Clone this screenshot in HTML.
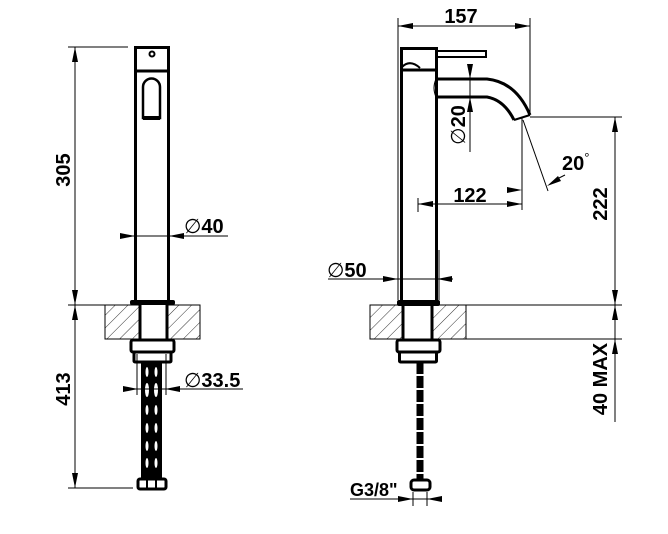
<!DOCTYPE html>
<html><head><meta charset="utf-8"><style>
html,body{margin:0;padding:0;background:#fff;}
svg{display:block;}
text{font-family:"Liberation Sans",Arial,sans-serif;font-weight:bold;fill:#000;}
.d{font-weight:normal;}
</style></head><body>
<svg width="668" height="534" viewBox="0 0 668 534" xmlns="http://www.w3.org/2000/svg">
<defs>
<pattern id="h" patternUnits="userSpaceOnUse" width="9" height="9" patternTransform="rotate(45)">
<line x1="0" y1="0" x2="0" y2="9" stroke="#000" stroke-width="0.8"/>
</pattern>
</defs>
<g stroke="#000" fill="none">
<!-- LEFT VIEW -->
<rect x="105" y="305" width="95" height="34" fill="url(#h)" stroke-width="1"/>
<rect x="140" y="305" width="27" height="34" fill="#fff" stroke="none"/>
<line x1="140" y1="305" x2="140" y2="339" stroke-width="3"/>
<line x1="167" y1="305" x2="167" y2="339" stroke-width="3"/>
<rect x="135.5" y="47.5" width="33" height="255" stroke-width="3"/>
<line x1="135" y1="71" x2="169" y2="71" stroke-width="3"/>
<circle cx="152" cy="54" r="2.5" stroke-width="2"/>
<path d="M143,118 L143,87 A8.5,8.5 0 0 1 160,87 L160,118 Z" stroke-width="2.5"/>
<line x1="143" y1="118" x2="160" y2="118" stroke-width="4"/>
<rect x="130" y="300" width="45" height="5" rx="2" fill="#000" stroke="none"/>
<rect x="131" y="340" width="43" height="12" rx="2" stroke-width="3"/>
<rect x="134" y="352" width="37" height="10" rx="1" stroke-width="3"/>
<line x1="137" y1="354" x2="137" y2="395" stroke-width="1"/>
<line x1="166" y1="354" x2="166" y2="395" stroke-width="1"/>
<rect x="141" y="362" width="21" height="117" fill="#000" stroke="none"/>
<g fill="#fff" stroke="none">
<ellipse cx="147" cy="372" rx="1.5" ry="5"/><ellipse cx="156" cy="372" rx="1.5" ry="5"/>
<ellipse cx="147" cy="390" rx="2" ry="7"/><ellipse cx="156" cy="390" rx="2" ry="7"/>
<ellipse cx="147" cy="410" rx="1.5" ry="5"/><ellipse cx="156" cy="410" rx="1.5" ry="5"/>
<ellipse cx="147" cy="428" rx="1.5" ry="5"/><ellipse cx="156" cy="428" rx="1.5" ry="5"/>
<ellipse cx="147" cy="446" rx="1.5" ry="5"/><ellipse cx="156" cy="446" rx="1.5" ry="5"/>
<ellipse cx="147" cy="463" rx="1.5" ry="5"/><ellipse cx="156" cy="463" rx="1.5" ry="5"/>
</g>
<rect x="138" y="479" width="28" height="10" rx="2" stroke-width="3"/>
<line x1="147" y1="479" x2="147" y2="489" stroke-width="2"/>
<line x1="156" y1="479" x2="156" y2="489" stroke-width="2"/>
<g stroke-width="1">
<line x1="68" y1="47" x2="128" y2="47"/>
<line x1="68" y1="305" x2="105" y2="305"/>
<line x1="68" y1="488" x2="133" y2="488"/>
<line x1="75" y1="47" x2="75" y2="488"/>
<line x1="120" y1="236" x2="228" y2="236"/>
<line x1="123" y1="389" x2="243" y2="389"/>
</g>
<!-- RIGHT VIEW -->
<rect x="370" y="305" width="96" height="34" fill="url(#h)" stroke-width="1"/>
<rect x="403" y="305" width="29" height="34" fill="#fff" stroke="none"/>
<line x1="466" y1="305" x2="622" y2="305" stroke-width="1"/>
<line x1="466" y1="339" x2="622" y2="339" stroke-width="1"/>
<line x1="403" y1="305" x2="403" y2="339" stroke-width="3"/>
<line x1="432" y1="305" x2="432" y2="339" stroke-width="3"/>
<line x1="398" y1="47" x2="398" y2="300" stroke-width="1"/>
<line x1="439" y1="250" x2="439" y2="300" stroke-width="1"/>
<path d="M401.5,302 L401.5,48.5 L436.5,48.5 L436.5,302" stroke-width="3"/>
<line x1="401" y1="70" x2="436" y2="70" stroke-width="3"/>
<path d="M402,67 Q410,59 420,68" stroke-width="2"/>
<path d="M436,51 L486,51 L486,57 L436,57" stroke-width="2"/>
<path d="M436,79 L487,79 Q516,82 530,115" stroke-width="3"/>
<path d="M436,97 L487,97 Q504,100 514,120" stroke-width="3"/>
<path d="M514,120 L530,115" stroke-width="2"/>
<path d="M436,79 Q432,88 436,97" stroke-width="1"/>
<rect x="397" y="300" width="43" height="6" rx="2" fill="#000" stroke="none"/>
<rect x="397" y="340" width="43" height="12" rx="2" stroke-width="3"/>
<rect x="399.5" y="352" width="37" height="10" rx="1" stroke-width="3"/>
<line x1="420" y1="362" x2="420" y2="480" stroke-width="7" stroke-dasharray="12,2"/>
<rect x="411" y="480" width="19" height="10" rx="3" stroke-width="3"/>
<g stroke-width="1">
<line x1="398" y1="18" x2="398" y2="47"/>
<line x1="530" y1="18" x2="530" y2="115"/>
<line x1="398" y1="26" x2="530" y2="26"/>
<line x1="470" y1="65" x2="470" y2="152"/>
<line x1="522" y1="118" x2="522" y2="210"/>
<line x1="418" y1="198" x2="418" y2="212"/>
<line x1="418" y1="204" x2="522" y2="204"/>
<line x1="523" y1="120" x2="548" y2="191"/>
<line x1="530" y1="117" x2="622" y2="117"/>
<line x1="615" y1="117" x2="615" y2="422"/>
<line x1="328" y1="279" x2="453" y2="279"/>
<line x1="350" y1="499" x2="440" y2="499"/>
<line x1="413" y1="492" x2="413" y2="506"/>
<line x1="427" y1="492" x2="427" y2="506"/>
</g>
</g>
<g fill="#000">
<polygon points="75,47 72,62 78,62"/><polygon points="75,305 72,290 78,290"/>
<polygon points="75,305 72,320 78,320"/><polygon points="75,488 72,473 78,473"/>
<polygon points="135,236 120,233 120,239"/><polygon points="169,236 184,233 184,239"/>
<polygon points="138,389 123,386 123,392"/><polygon points="165,389 180,386 180,392"/>
<polygon points="398,26 413,23 413,29"/><polygon points="530,26 515,23 515,29"/>
<polygon points="470,79 467,64 473,64"/><polygon points="470,97 467,112 473,112"/>
<polygon points="522,190 507,187 507,193"/><polygon points="418,204 433,201 433,207"/>
<polygon points="522,204 507,201 507,207"/>
<polygon points="547,186 558,176 561,181"/>
<line x1="559" y1="178" x2="565" y2="175" stroke="#000"/>
<polygon points="615,117 612,132 618,132"/><polygon points="615,305 612,290 618,290"/>
<polygon points="615,305 612,320 618,320"/><polygon points="615,339 612,354 618,354"/>
<polygon points="398,279 383,276 383,282"/><polygon points="437,279 452,276 452,282"/>
<polygon points="413,499 398,496 398,502"/><polygon points="427,499 442,496 442,502"/>
</g>
<g font-size="20">
<text x="77" y="177" transform="rotate(-90 70 177)" text-anchor="middle">305</text>
<text x="77" y="396" transform="rotate(-90 70 396)" text-anchor="middle">413</text>
<text x="184" y="233"><tspan class="d">∅</tspan>40</text>
<text x="184" y="387"><tspan class="d">∅</tspan>33.5</text>
<text x="461" y="23" text-anchor="middle">157</text>
<text x="472" y="132" transform="rotate(-90 465 132)" text-anchor="middle"><tspan class="d">∅</tspan>20</text>
<text x="562" y="170">20<tspan class="d" font-size="13" dy="-8">°</tspan></text>
<text x="470" y="202" text-anchor="middle">122</text>
<text x="614" y="211" transform="rotate(-90 607 211)" text-anchor="middle">222</text>
<text x="327" y="277"><tspan class="d">∅</tspan>50</text>
<text x="614" y="386" transform="rotate(-90 607 386)" text-anchor="middle">40 MAX</text>
<text x="350" y="496" font-size="18">G3/8"</text>
</g>
</svg>
</body></html>
